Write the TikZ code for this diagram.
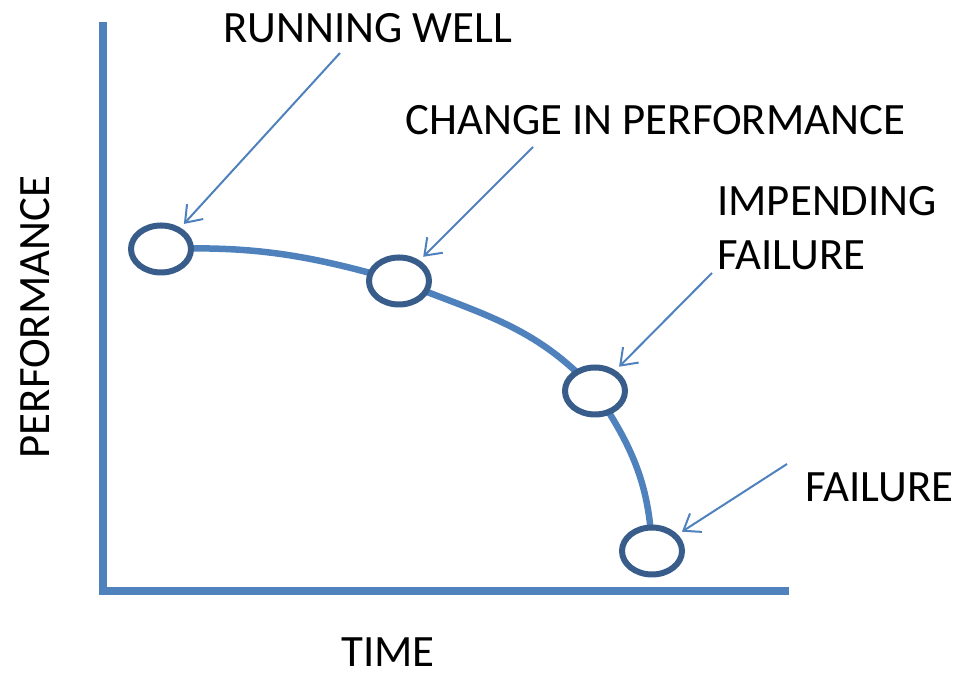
\documentclass[tikz,border=0pt]{standalone}
\usepackage{fontspec}
\setmainfont{Carlito}
\usepackage{xcolor}
\usetikzlibrary{positioning, shapes.geometric, arrows.meta, backgrounds}
\definecolor{axisblue}{HTML}{4F81BD}
\definecolor{ringblue}{HTML}{385D8A}

\begin{document}
\begin{tikzpicture}[x=0.2mm, y=0.2mm,
  font=\fontsize{25.5}{31}\selectfont,
  axisline/.style={draw=axisblue, line width=1.6mm, line join=miter},
  trend/.style={draw=axisblue, line width=1.3mm},
  stage/.style={ellipse, draw=ringblue, line width=1.2mm, fill=white, minimum width=12mm, minimum height=9.4mm, inner sep=0pt},
  tag/.style={anchor=base west, inner sep=0pt, align=left},
  pointer/.style={-{Straight Barb[length=3mm, width=4.4mm]}, draw=axisblue, line width=0.4mm, shorten >=1mm}
]
  \useasboundingbox (0,0) rectangle (958,675);

  % axes
  \draw[axisline] (102.5,653) |- (789,84);

  % stages along the curve
  \node[stage] (c1) at (161,426) {};
  \node[stage] (c2) at (399,394) {};
  \node[stage] (c3) at (595,284) {};
  \node[stage] (c4) at (652,124) {};

  % curve passes behind the rings
  \begin{scope}[on background layer]
    \draw[trend] (c1.center) to[out=2, in=164] (c2.center)
                             to[out=-22, in=132] (c3.center)
                             to[out=-56, in=92] (c4.center);
  \end{scope}

  % labels
  \node[tag] (rw) at (223,632) {RUNNING WELL};
  \node[tag] (cp) at (405,540) {CHANGE IN PERFORMANCE};
  \node[tag] (imp) at (717,405) {IMPENDING\\FAILURE};
  \node[tag] (fl) at (805,173) {FAILURE};
  \node[anchor=base, rotate=90, inner sep=0pt] (perf) at (50,358) {PERFORMANCE};
  \node[anchor=base, inner sep=0pt] (time) at (388,8) {TIME};

  % arrow tails
  \coordinate (rwtail) at (340,622);
  \coordinate (cptail) at (533,528);
  \coordinate (imptail) at (712,402);
  \coordinate (fltail) at (787,211);

  \foreach \t/\c in {rwtail/c1, cptail/c2, imptail/c3, fltail/c4} {
    \draw[pointer] (\t) -- (\c);
  }
\end{tikzpicture}
\end{document}
